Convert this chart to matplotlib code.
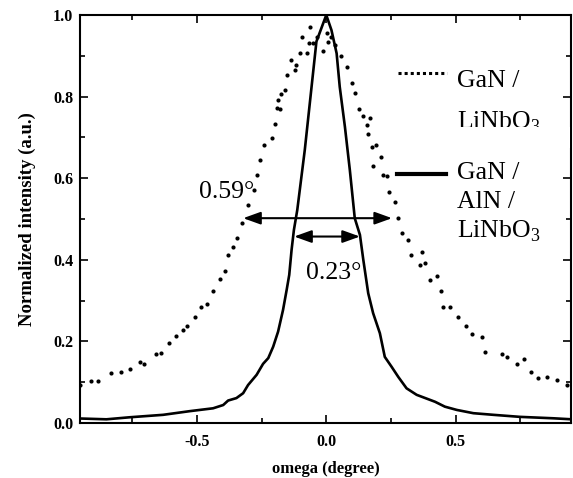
import matplotlib
matplotlib.use("Agg")
import matplotlib.pyplot as plt
from matplotlib.patches import Rectangle
from matplotlib.ticker import MultipleLocator, FormatStrFormatter

# GaN / LiNbO3 (dotted, broad)
gan_linbo_x = [-0.952, -0.907, -0.881, -0.830, -0.791, -0.759, -0.720, -0.704, -0.656, -0.637,
               -0.607, -0.581, -0.555, -0.537, -0.505, -0.482, -0.462, -0.437, -0.411, -0.392,
               -0.379, -0.362, -0.344, -0.327, -0.304, -0.280, -0.269, -0.254, -0.241, -0.211,
               -0.199, -0.192, -0.188, -0.179, -0.173, -0.160, -0.153, -0.137, -0.121, -0.115,
               -0.102, -0.092, -0.076, -0.066, -0.061, -0.051, -0.037, -0.012, 0.001, 0.007,
               0.020, 0.033, 0.055, 0.081, 0.098, 0.111, 0.127, 0.143, 0.156, 0.162,
               0.168, 0.175, 0.179, 0.192, 0.210, 0.220, 0.233, 0.243, 0.265, 0.278,
               0.291, 0.317, 0.326, 0.362, 0.368, 0.381, 0.400, 0.426, 0.442, 0.449,
               0.478, 0.510, 0.539, 0.561, 0.600, 0.613, 0.677, 0.699, 0.735, 0.763,
               0.789, 0.819, 0.851, 0.890, 0.929, 0.948]
gan_linbo_y = [0.093, 0.103, 0.103, 0.122, 0.126, 0.132, 0.150, 0.145, 0.169, 0.172,
               0.197, 0.213, 0.228, 0.238, 0.259, 0.284, 0.291, 0.324, 0.353, 0.373,
               0.412, 0.432, 0.453, 0.489, 0.534, 0.571, 0.608, 0.645, 0.681, 0.698,
               0.733, 0.771, 0.792, 0.769, 0.806, 0.816, 0.853, 0.890, 0.865, 0.877,
               0.908, 0.947, 0.908, 0.931, 0.971, 0.931, 0.947, 0.913, 0.955, 0.935,
               0.947, 0.926, 0.900, 0.872, 0.833, 0.808, 0.769, 0.752, 0.730, 0.708,
               0.747, 0.677, 0.630, 0.681, 0.653, 0.608, 0.605, 0.567, 0.542, 0.502,
               0.465, 0.449, 0.412, 0.387, 0.420, 0.391, 0.350, 0.360, 0.324, 0.285,
               0.285, 0.259, 0.238, 0.218, 0.210, 0.175, 0.169, 0.162, 0.145, 0.156,
               0.126, 0.110, 0.113, 0.105, 0.093, 0.097]

# GaN / AlN / LiNbO3 (solid, narrow)
gan_aln_x = [-0.952, -0.849, -0.759, -0.630, -0.527, -0.437, -0.398, -0.379, -0.347, -0.321,
             -0.302, -0.269, -0.244, -0.224, -0.205, -0.186, -0.167, -0.153, -0.143, -0.134,
             -0.125, -0.112, -0.083, -0.038, 0.000, 0.020, 0.040, 0.052, 0.072, 0.091,
             0.110, 0.130, 0.143, 0.162, 0.181, 0.207, 0.226, 0.252, 0.278, 0.310,
             0.349, 0.420, 0.458, 0.504, 0.568, 0.645, 0.748, 0.877, 0.948]
gan_aln_y = [0.011, 0.009, 0.014, 0.020, 0.029, 0.036, 0.044, 0.055, 0.061, 0.073,
             0.093, 0.118, 0.145, 0.159, 0.187, 0.224, 0.277, 0.326, 0.363, 0.424,
             0.473, 0.522, 0.669, 0.935, 1.000, 0.963, 0.906, 0.824, 0.726, 0.620,
             0.502, 0.461, 0.400, 0.318, 0.269, 0.220, 0.162, 0.138, 0.113, 0.085,
             0.069, 0.052, 0.040, 0.032, 0.024, 0.020, 0.015, 0.0115, 0.009]

# FWHM annotations: (left, right, height, label)
fwhm_broad = (-0.321, 0.254, 0.502, "0.59\u00b0")
fwhm_narrow = (-0.124, 0.130, 0.457, "0.23\u00b0")

plt.rcParams['font.family'] = ['Liberation Serif', 'DejaVu Serif']
plt.rcParams['mathtext.fontset'] = 'custom'
plt.rcParams['mathtext.rm'] = 'Liberation Serif'

fig = plt.figure(figsize=(5.73, 4.78), dpi=100)
ax = fig.add_axes([0.1396, 0.1151, 0.9965 - 0.1396, 0.9686 - 0.1151])

ax.plot(gan_linbo_x, gan_linbo_y, linestyle='none', marker='o', markersize=3.0,
        color='black', markeredgewidth=0)
ax.plot(gan_aln_x, gan_aln_y, '-', color='black', lw=1.9)

ax.set_xlim(-0.951, 0.945)
ax.set_ylim(0, 1.0)

for spine in ax.spines.values():
    spine.set_linewidth(1.5)

ax.xaxis.set_major_locator(MultipleLocator(0.5))
ax.xaxis.set_minor_locator(MultipleLocator(0.25))
ax.yaxis.set_major_locator(MultipleLocator(0.2))
ax.yaxis.set_minor_locator(MultipleLocator(0.1))
ax.xaxis.set_major_formatter(FormatStrFormatter('%.1f'))
ax.yaxis.set_major_formatter(FormatStrFormatter('%.1f'))
ax.tick_params(which='both', direction='in', top=True, right=True, width=1.2)
ax.tick_params(which='major', length=5.5)
ax.tick_params(which='minor', length=3.5)
ax.tick_params(axis='x', which='major', pad=8)
ax.tick_params(axis='y', which='major', pad=5)
for lab in ax.get_xticklabels() + ax.get_yticklabels():
    lab.set_fontsize(11.5)
    lab.set_fontweight('bold')

ax.set_xlabel('omega (degree)', fontsize=12, fontweight='bold', labelpad=8)
ax.set_ylabel('Normalized intensity (a.u.)', fontsize=13.5, fontweight='bold', labelpad=12)

# FWHM arrows
for (xl, xr, h, lab) in (fwhm_broad, fwhm_narrow):
    ax.annotate('', xy=(xl, h), xytext=(xr, h),
                arrowprops=dict(arrowstyle='<|-|>,head_length=0.75,head_width=0.27',
                                mutation_scale=14, lw=1.5, color='black',
                                shrinkA=0, shrinkB=0))
ax.text(-0.491, 0.551, fwhm_broad[3], fontsize=18.5, ha='left', va='baseline')
ax.text(-0.079, 0.352, fwhm_narrow[3], fontsize=18.5, ha='left', va='baseline')

# legend (manual)
ax.plot([0.278, 0.465], [0.857, 0.857], color='black', lw=2.2,
        linestyle=(0, (1, 1)), dash_capstyle='butt')
ax.text(0.505, 0.823, 'GaN /', fontsize=18.5, ha='left', va='baseline')
ax.text(0.505, 0.722, 'LiNbO$_3$', fontsize=18.5, ha='left', va='baseline', zorder=3)
# second line of the first legend entry is cut off in the original
ax.add_patch(Rectangle((0.49, 0.675), 0.45, 0.051, facecolor='white',
                       edgecolor='none', zorder=4))

ax.plot([0.272, 0.461], [0.610, 0.610], color='black', lw=3)
ax.text(0.505, 0.598, 'GaN /', fontsize=18.5, ha='left', va='baseline')
ax.text(0.505, 0.526, 'AlN /', fontsize=18.5, ha='left', va='baseline')
ax.text(0.505, 0.455, 'LiNbO$_3$', fontsize=18.5, ha='left', va='baseline')

fig.savefig('out.png', dpi=100)
